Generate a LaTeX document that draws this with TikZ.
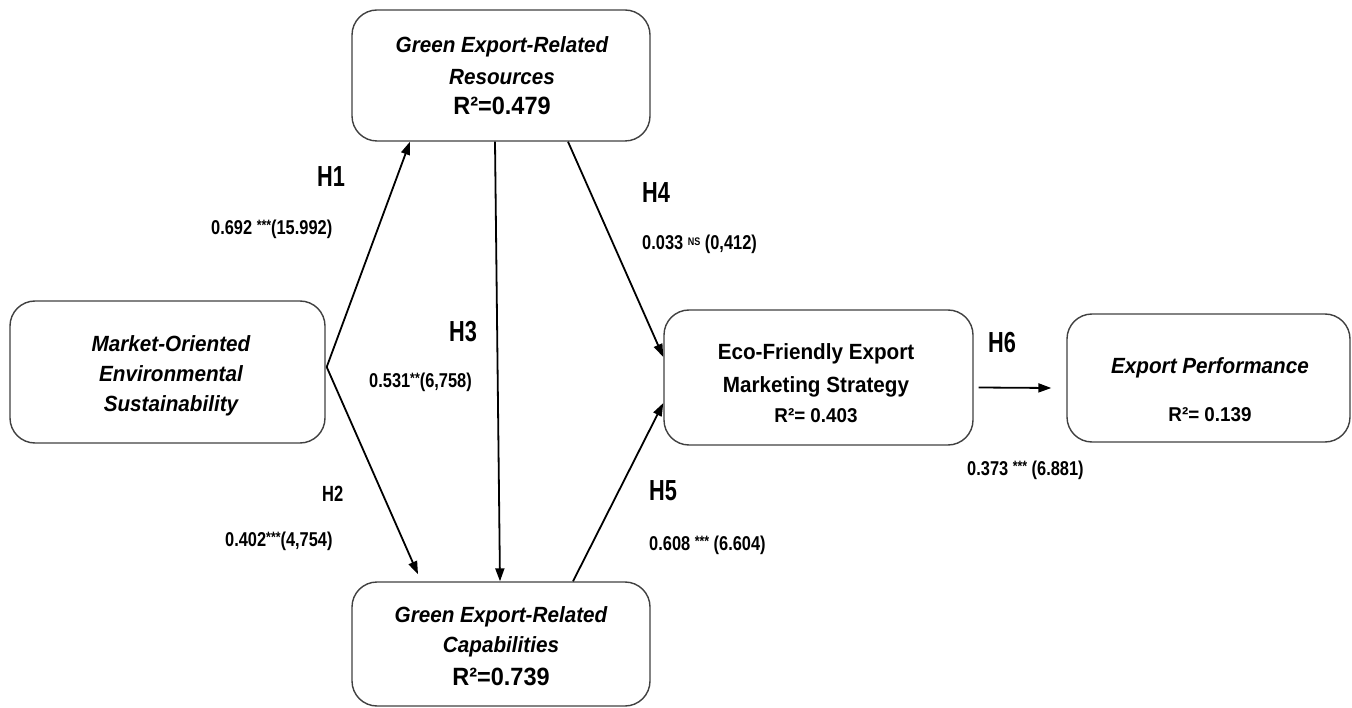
\documentclass[tikz,border=0pt]{standalone}
\usepackage{fontspec}
\setmainfont{Liberation Sans}
\newfontfamily\boxfont[FakeStretch=0.94]{Liberation Sans}
\newfontfamily\hfont[FakeStretch=0.75]{Liberation Sans}
\newfontfamily\numfont[FakeStretch=0.82]{Liberation Sans}
\usetikzlibrary{arrows.meta}
\newcommand{\sstar}[1]{\raisebox{4pt}{\fontsize{15}{15}\selectfont #1}}
\newcommand{\sns}[1]{\raisebox{4pt}{\fontsize{11}{11}\selectfont #1}}
\begin{document}
\begin{tikzpicture}[x=1pt,y=-1pt,
  box/.style={draw=black!75, line width=1.4pt, rounded corners=25pt, inner sep=0pt},
  btext/.style={align=center, inner sep=0pt, font=\boxfont\bfseries\fontsize{22}{30}\selectfont},
  hlab/.style={anchor=base west, inner sep=0pt, font=\hfont\bfseries\fontsize{29}{29}\selectfont},
  nlab/.style={anchor=base west, inner sep=0pt, font=\numfont\bfseries\fontsize{20}{20}\selectfont},
  arr/.style={line width=1.8pt, -{Triangle[length=13pt,width=9pt]}}
]
\useasboundingbox (0,0) rectangle (1352,708);
% boxes
\node[box, minimum width=298pt, minimum height=131pt] (gerr) at (501,75.5) {};
\node[box, minimum width=315pt, minimum height=142pt] (moes) at (167.5,372) {};
\node[box, minimum width=298pt, minimum height=124pt] (gerc) at (501,644) {};
\node[box, minimum width=309pt, minimum height=135pt] (efems) at (818.5,377.5) {};
\node[box, minimum width=283pt, minimum height=128pt] (ep) at (1208.5,378) {};
% box texts
\node[btext] (gerrT) at (502,76)
  {\itshape Green Export-Related\\[2pt] \itshape Resources\\ {\fontsize{25}{25}\selectfont R²=0.479}};
\node[btext] (moesT) at (171,376)
  {\itshape Market-Oriented\\ \itshape Environmental\\ \itshape Sustainability};
\node[btext] (gercT) at (501,646)
  {\itshape Green Export-Related\\ \itshape Capabilities\\[3pt] {\fontsize{25}{25}\selectfont R²=0.739}};
\node[btext] (efemsT) at (816,383.5)
  {Eco-Friendly Export\\[3pt] Marketing Strategy\\ {\fontsize{20}{20}\selectfont R²= 0.403}};
\node[btext] (epT) at (1210,390)
  {\itshape Export Performance\\[18pt] {\fontsize{20}{20}\selectfont R²= 0.139}};
% hypothesis labels
\node[hlab] (h1) at (317,187) {H1};
\node[hlab, font=\hfont\bfseries\fontsize{22}{22}\selectfont] (h2) at (322,501) {H2};
\node[hlab] (h3) at (449,342) {H3};
\node[hlab] (h4) at (642,203) {H4};
\node[hlab] (h5) at (649,500) {H5};
\node[hlab] (h6) at (988,353) {H6};
% coefficients
\node[nlab] (n1) at (211,235) {0.692 \sstar{***}(15.992)};
\node[nlab] (n4) at (642,250) {0.033 \sns{NS} (0,412)};
\node[nlab] (n3) at (369,388) {0.531\sstar{**}(6,758)};
\node[nlab] (n2) at (225,546) {0.402\sstar{***}(4,754)};
\node[nlab] (n5) at (649,550) {0.608 \sstar{***} (6.604)};
\node[nlab] (n6) at (967,475) {0.373 \sstar{***} (6.881)};
% connectors
\draw[arr] ([xshift=1pt,yshift=5pt]moes.east) -- ([xshift=-91pt]gerr.south);
\draw[arr] ([xshift=1pt,yshift=5pt]moes.east) -- ([xshift=-83pt,yshift=7pt]gerc.north);
\draw[arr] ([xshift=-6pt]gerr.south) -- ([xshift=-1pt]gerc.north);
\draw[arr] ([xshift=67pt]gerr.south) -- ([yshift=20.5pt]efems.west);
\draw[arr] ([xshift=72pt]gerc.north) -- ([yshift=-25.5pt]efems.west);
\draw[arr] ([xshift=5pt,yshift=-10pt]efems.east) -- ([xshift=-15pt,yshift=-10pt]ep.west);
\end{tikzpicture}
\end{document}
